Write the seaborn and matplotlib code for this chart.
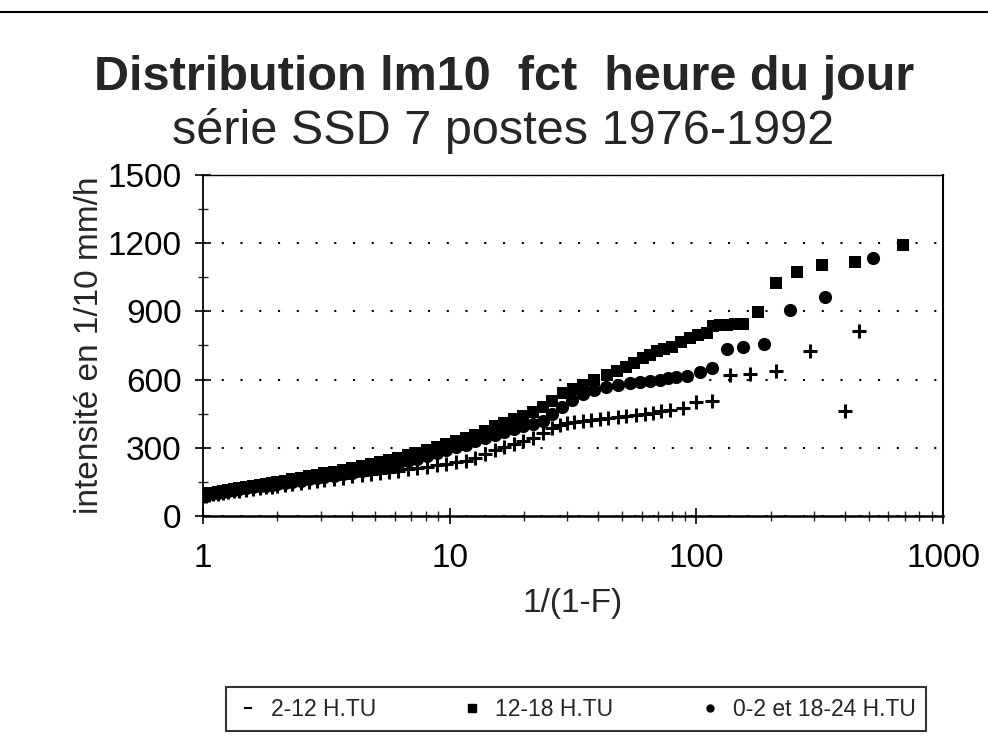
import matplotlib
matplotlib.use("Agg")
import matplotlib.pyplot as plt
from matplotlib.lines import Line2D
import seaborn as sns
import pandas as pd

# return period 1/(1-F) and intensity (1/10 mm/h)
x_2_12 = [1.0, 1.03, 1.06, 1.1, 1.15, 1.2, 1.26, 1.33, 1.4, 1.5, 1.6, 1.7, 1.8, 1.9, 2.0,
          2.15, 2.3, 2.5, 2.7, 2.9, 3.1, 3.4, 3.7, 4.0, 4.4, 4.8, 5.2, 5.7, 6.2, 6.8,
          7.4, 8.1, 8.9, 9.7, 10.6, 11.6, 12.7, 13.9, 15.2, 16.6, 18.2, 19.9, 21.8, 23.8, 26.0,
          28, 29.9, 32, 34.7, 37.5, 40.6, 44, 48, 52, 57, 62, 67, 72, 78, 88,
          100, 116, 137, 165, 210, 289, 400, 456]
y_2_12 = [88, 90, 92, 95, 98, 101, 104, 108, 111, 116, 120, 123, 126, 129, 132,
          136, 140, 145, 150, 154, 158, 164, 169, 174, 179, 184, 189, 195, 200, 206,
          211, 217, 223, 229, 236, 244, 256, 272, 292, 305, 318, 330, 345, 365, 385,
          400, 409, 414, 418, 422, 427, 432, 436, 440, 444, 448, 453, 460, 466, 475,
          502, 506, 620, 625, 638, 726, 462, 814]

x_12_18 = [1.0, 1.03, 1.06, 1.1, 1.15, 1.2, 1.26, 1.33, 1.4, 1.5, 1.6, 1.7, 1.8, 1.9, 2.0,
           2.15, 2.3, 2.5, 2.7, 2.9, 3.1, 3.4, 3.7, 4.0, 4.4, 4.8, 5.2, 5.7, 6.2, 6.8,
           7.4, 8.1, 8.9, 9.7, 10.6, 11.6, 12.7, 13.9, 15.2, 16.6, 18.2, 19.9, 21.8, 23.8, 26.0,
           28.8, 31.5, 34.7, 38.5, 43.4, 47.5, 52, 56, 61, 65, 69, 74, 80, 87,
           94, 102, 110, 117, 125, 133, 143, 154, 178, 210, 256, 323, 439, 690]
y_12_18 = [95, 97, 99, 102, 106, 110, 114, 118, 122, 128, 133, 138, 142, 146, 150,
           156, 162, 169, 175, 181, 187, 195, 202, 210, 218, 230, 238, 247, 256, 267,
           278, 290, 303, 318, 330, 342, 357, 374, 395, 410, 425, 440, 458, 480, 505,
           541, 558, 576, 598, 620, 638, 655, 675, 695, 710, 726, 735, 743, 765,
           783, 795, 805, 836, 838, 840, 843, 845, 897, 1025, 1073, 1104, 1117, 1190]

x_18_02 = [1.0, 1.03, 1.06, 1.1, 1.15, 1.2, 1.26, 1.33, 1.4, 1.5, 1.6, 1.7, 1.8, 1.9, 2.0,
           2.15, 2.3, 2.5, 2.7, 2.9, 3.1, 3.4, 3.7, 4.0, 4.4, 4.8, 5.2, 5.7, 6.2, 6.8,
           7.4, 8.1, 8.9, 9.7, 10.6, 11.6, 12.7, 13.9, 15.2, 16.6, 18.2, 19.9, 21.8, 23.8, 26.0,
           28.5, 31.3, 34.7, 38.5, 43, 48, 54, 59, 65, 71, 77, 83, 92,
           103, 116, 133, 154, 188, 240, 332, 520]
y_18_02 = [92, 94, 96, 99, 102, 105, 109, 113, 117, 122, 126, 130, 133, 136, 139,
           144, 149, 155, 161, 166, 171, 178, 184, 191, 198, 206, 213, 222, 230, 240,
           250, 262, 276, 290, 302, 314, 328, 342, 358, 370, 382, 394, 405, 420, 450,
           480, 510, 538, 556, 568, 576, 585, 590, 594, 600, 606, 612, 616,
           633, 651, 735, 743, 757, 906, 963, 1135]

labels = ["2-12 H.TU", "12-18 H.TU", "0-2 et 18-24 H.TU"]

df1 = pd.DataFrame({"x": x_2_12, "y": y_2_12})
df2 = pd.DataFrame({"x": x_12_18, "y": y_12_18})
df3 = pd.DataFrame({"x": x_18_02, "y": y_18_02})

sns.set_style("ticks")
plt.rcParams["font.family"] = ["Liberation Sans", "DejaVu Sans"]

fig = plt.figure(figsize=(9.88, 7.38), dpi=100)
ax = fig.add_axes([0.2055, 0.3008, 0.749, 0.4622])

# plus first, then circles, squares on top
sns.scatterplot(data=df1, x="x", y="y", marker="+", s=110, color="black",
                linewidth=2.2, ax=ax, zorder=3)
sns.scatterplot(data=df3, x="x", y="y", marker="o", s=90, color="black",
                edgecolor="black", linewidth=0, ax=ax, zorder=3)
sns.scatterplot(data=df2, x="x", y="y", marker="s", s=80, color="black",
                edgecolor="black", linewidth=0, ax=ax, zorder=4)

ax.set_xscale("log")
ax.set_xlim(1, 1000)
ax.set_ylim(0, 1500)
ax.set_yticks([0, 300, 600, 900, 1200, 1500])
ax.set_yticks([150, 450, 750, 1050, 1350], minor=True)
ax.set_xticks([1, 10, 100, 1000])
ax.set_xticklabels(["1", "10", "100", "1000"])
ax.yaxis.grid(True, which="major", linestyle=(0, (1, 8)), color="black", linewidth=1.5)
ax.xaxis.grid(False)

for sp in ax.spines.values():
    sp.set_color("black")
    sp.set_linewidth(1.0)
ax.spines["left"].set_linewidth(1.3)
ax.spines["right"].set_linewidth(1.5)
ax.spines["bottom"].set_linewidth(1.8)

ax.tick_params(axis="both", which="major", direction="inout", length=11, width=1.2,
               labelsize=24, colors="black")
ax.tick_params(axis="both", which="minor", direction="inout", length=7, width=1.0)
ax.tick_params(axis="y", which="major", pad=10)
ax.tick_params(axis="x", which="major", pad=14)

ax.set_xlabel("1/(1-F)", fontsize=24, labelpad=10)
ax.set_ylabel("intensité en 1/10 mm/h", fontsize=24, labelpad=2)

fig.text(0.51, 0.895, "Distribution lm10  fct  heure du jour", ha="center", va="center",
         fontsize=35, fontweight="bold")
fig.text(0.509, 0.822, "série SSD 7 postes 1976-1992", ha="center", va="center",
         fontsize=35)

# scan edge line at the top of the page
fig.add_artist(Line2D([0, 1], [0.984, 0.984], color="black", linewidth=1.5,
                      transform=fig.transFigure))

handles = [
    Line2D([], [], linestyle="none", marker="_", markersize=6, markeredgewidth=1.5, color="black"),
    Line2D([], [], linestyle="none", marker="s", markersize=6, color="black"),
    Line2D([], [], linestyle="none", marker="o", markersize=5, color="black"),
]
leg = fig.legend(handles, labels, loc="center", bbox_to_anchor=(0.583, 0.039), ncol=3,
                 fontsize=16.5, frameon=True, fancybox=False, edgecolor="black",
                 columnspacing=3.7, handletextpad=0.5, handlelength=1.0,
                 borderpad=0.45, borderaxespad=0)
leg.get_frame().set_linewidth(1.5)

fig.savefig("out.png", dpi=100, facecolor="white")
